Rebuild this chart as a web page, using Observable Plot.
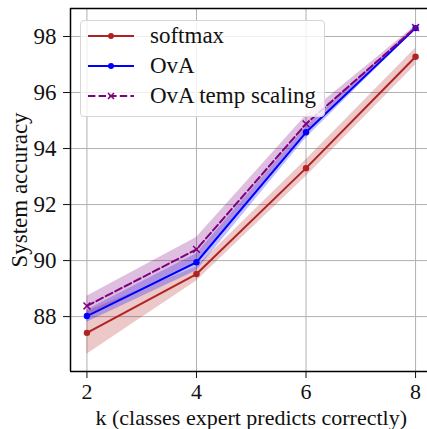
<!DOCTYPE html>
<html>
<head>
<meta charset="utf-8">
<script src="https://cdn.jsdelivr.net/npm/d3@7"></script>
<script src="https://cdn.jsdelivr.net/npm/@observablehq/plot@0.6"></script>
<style>
  html, body { margin: 0; padding: 0; background: white; overflow: hidden; }
  #wrap { position: relative; width: 427px; height: 429px; overflow: hidden; }
  #wrap svg, #wrap svg text { font-family: "Liberation Serif", "Times New Roman", Times, "DejaVu Serif" !important; }
  #legend {
    position: absolute; left: 80px; top: 20px; width: 245px; height: 97px;
    background: rgba(255,255,255,0.8); border: 1px solid #d6d6d6; border-radius: 4px;
    box-sizing: border-box; font-family: "Liberation Serif", "Times New Roman", Times, "DejaVu Serif"; font-size: 23px; color: #111;
  }
  .row { position: absolute; left: 7px; height: 20px; display: flex; align-items: center; }
  .row span { margin-left: 16px; white-space: nowrap; }
</style>
</head>
<body>
<div id="wrap"></div>
<script>
const ks = [2, 4, 6, 8];
const softmaxMean = [87.42, 89.52, 93.3, 97.28];
const softmaxErr  = [0.76, 0.25, 0.3, 0.3];
const ovaMean     = [88.02, 89.94, 94.58, 98.3];
const ovaErr      = [0.22, 0.3, 0.2, 0.06];
const ovaTsMean   = [88.38, 90.4, 94.88, 98.32];
const ovaTsErr    = [0.35, 0.42, 0.3, 0.06];
const yTicks = [88, 90, 92, 94, 96, 98];
const xTicks = [2, 4, 6, 8];
const seriesNames = ["softmax", "OvA", "OvA temp scaling"];
const seriesColors = ["#b22222", "#0000ff", "#800080"];

function rows(mean, err, name) {
  return ks.map((k, i) => ({k, y: mean[i], lo: mean[i] - err[i], hi: mean[i] + err[i], name}));
}
const sm = rows(softmaxMean, softmaxErr, seriesNames[0]);
const ova = rows(ovaMean, ovaErr, seriesNames[1]);
const ts = rows(ovaTsMean, ovaTsErr, seriesNames[2]);

const xDomain = [1.7, 8.3];
const yDomain = [86.04, 99.0];

const plot = Plot.plot({
  width: 432,
  height: 429,
  marginLeft: 70,
  marginRight: 0.5,
  marginTop: 8,
  marginBottom: 58,
  style: {fontSize: "23px", maxWidth: "none", overflow: "hidden", color: "#111"},
  x: {domain: xDomain},
  y: {domain: yDomain},
  marks: [
    Plot.gridX(xTicks, {stroke: "#b0b0b0", strokeOpacity: 1, strokeWidth: 1}),
    Plot.gridY(yTicks, {stroke: "#b0b0b0", strokeOpacity: 1, strokeWidth: 1}),
    Plot.areaY(sm, {x: "k", y1: "lo", y2: "hi", fill: seriesColors[0], fillOpacity: 0.25}),
    Plot.areaY(ova, {x: "k", y1: "lo", y2: "hi", fill: seriesColors[1], fillOpacity: 0.25}),
    Plot.areaY(ts, {x: "k", y1: "lo", y2: "hi", fill: seriesColors[2], fillOpacity: 0.25}),
    Plot.line(sm, {x: "k", y: "y", stroke: seriesColors[0], strokeWidth: 2}),
    Plot.dot(sm, {x: "k", y: "y", fill: seriesColors[0], r: 3.2}),
    Plot.line(ova, {x: "k", y: "y", stroke: seriesColors[1], strokeWidth: 2}),
    Plot.dot(ova, {x: "k", y: "y", fill: seriesColors[1], r: 3.2}),
    Plot.line(ts, {x: "k", y: "y", stroke: seriesColors[2], strokeWidth: 2, strokeDasharray: "7.4,3.2"}),
    Plot.dot(ts, {x: "k", y: "y", stroke: seriesColors[2], symbol: "times", r: 3.2, strokeWidth: 1.5}),
    Plot.axisY(yTicks, {tickSize: 7, tickPadding: 7, fontSize: 23, label: "System accuracy", labelAnchor: "center", labelArrow: "none", labelOffset: 60}),
    Plot.axisX(xTicks, {tickSize: 7, tickPadding: 5, fontSize: 22, label: null}),
    Plot.axisX({label: "k (classes expert predicts correctly)", labelAnchor: "center", labelArrow: "none", labelOffset: 53, fontSize: 22, tickSize: 0, tickFormat: () => ""}),
    Plot.ruleX([xDomain[0]], {stroke: "black", strokeWidth: 1.5}),
    Plot.ruleY([yDomain[0]], {stroke: "black", strokeWidth: 1.5}),
    Plot.ruleY([yDomain[1]], {stroke: "black", strokeWidth: 1.5})
  ]
});
const wrap = document.getElementById("wrap");
wrap.appendChild(plot);

const legend = document.createElement("div");
legend.id = "legend";
const tops = [5, 35, 65];
seriesNames.forEach((name, i) => {
  const row = document.createElement("div");
  row.className = "row";
  row.style.top = tops[i] + "px";
  const c = seriesColors[i];
  const marker = i < 2
    ? `<circle cx="23" cy="10" r="3" fill="${c}"/>`
    : `<path d="M20,7L26,13M26,7L20,13" stroke="${c}" stroke-width="1.5"/>`;
  const dash = i === 2 ? ` stroke-dasharray="7.4,3.2"` : "";
  row.innerHTML = `<svg width="46" height="20"><line x1="0" y1="10" x2="46" y2="10" stroke="${c}" stroke-width="2"${dash}/>${marker}</svg><span>${name}</span>`;
  legend.appendChild(row);
});
wrap.appendChild(legend);
</script>
</body>
</html>
